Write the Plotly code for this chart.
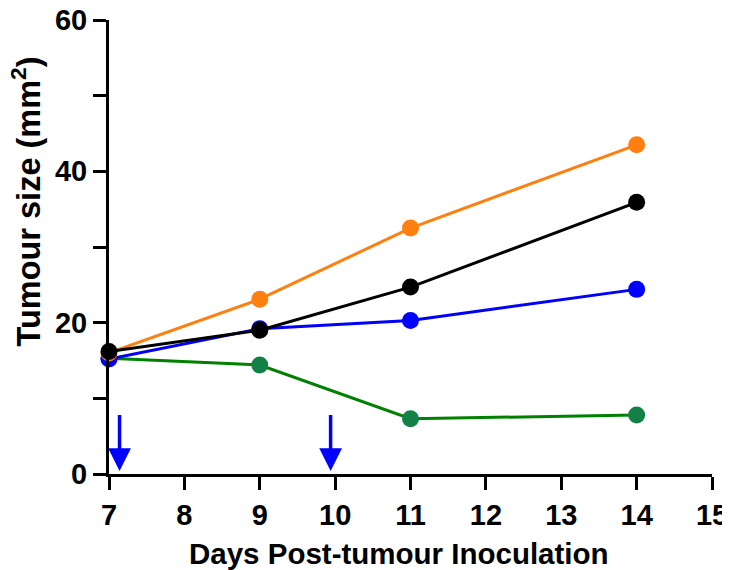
import plotly.graph_objects as go

days = [7, 9, 11, 14]
green_vals = [15.3, 14.4, 7.3, 7.8]
blue_vals = [15.2, 19.2, 20.3, 24.4]
orange_vals = [16.0, 23.1, 32.5, 43.5]
black_vals = [16.2, 19.0, 24.7, 35.9]

arrow_days = [7.14, 9.94]
arrow_top = 8.0
arrow_tip = 0.4

y_tickvals = [0, 10, 20, 30, 40, 50, 60]
y_ticktext = ["0", "", "20", "", "40", "", "60"]
x_tickvals = [7, 8, 9, 10, 11, 12, 13, 14, 15]

x_title = "Days Post-tumour Inoculation"
y_title = "Tumour size (mm<sup>2</sup>)"

series = [
    (green_vals, "#008000", "#138046"),
    (blue_vals, "#0000FF", "#0000FF"),
    (orange_vals, "#FF8010", "#FF8010"),
    (black_vals, "#000000", "#000000"),
]

fig = go.Figure()
for vals, lc, mc in series:
    fig.add_trace(go.Scatter(
        x=days, y=vals, mode="lines+markers",
        line=dict(color=lc, width=3),
        marker=dict(color=mc, size=17, line=dict(width=0)),
        cliponaxis=False, showlegend=False,
    ))

for d in arrow_days:
    fig.add_annotation(
        x=d, y=arrow_tip, ax=d, ay=arrow_top,
        xref="x", yref="y", axref="x", ayref="y",
        text="", showarrow=True, arrowhead=2, arrowsize=1.3,
        arrowwidth=3.5, arrowcolor="#0000FF", standoff=0,
    )

font_family = "Liberation Sans, Arial, sans-serif"

fig.add_annotation(
    text="<b>" + x_title + "</b>", xref="paper", yref="paper",
    x=0.481, y=-0.176, xanchor="center", yanchor="middle",
    showarrow=False, font=dict(size=29.5, family=font_family, color="black"),
)
fig.add_annotation(
    text="<b>" + y_title + "</b>", xref="paper", yref="paper",
    x=-0.137, y=0.601, xanchor="center", yanchor="middle", textangle=-90,
    showarrow=False, font=dict(size=32.5, family=font_family, color="black"),
)

# page body has an 8px margin, so the figure is 8px smaller on each axis
fig.update_layout(
    width=722, height=562,
    margin=dict(l=101, r=18, t=12, b=96),
    plot_bgcolor="white", paper_bgcolor="white",
    font=dict(family=font_family, color="black", size=29),
    xaxis=dict(
        range=[7, 15], tickvals=x_tickvals, showgrid=False, zeroline=False,
        showline=True, linecolor="black", linewidth=3, automargin=False,
        ticks="outside", ticklen=13, tickwidth=3, tickcolor="black",
        ticklabeloverflow="allow",
        tickfont=dict(size=29, family=font_family, weight="bold"),
    ),
    yaxis=dict(
        range=[0, 60], tickvals=y_tickvals, ticktext=y_ticktext,
        showgrid=False, zeroline=False, automargin=False,
        showline=True, linecolor="black", linewidth=3,
        ticks="outside", ticklen=13, tickwidth=3, tickcolor="black",
        ticklabeloverflow="allow",
        tickfont=dict(size=29, family=font_family, weight="bold"),
    ),
)

fig.write_html("out.html")
